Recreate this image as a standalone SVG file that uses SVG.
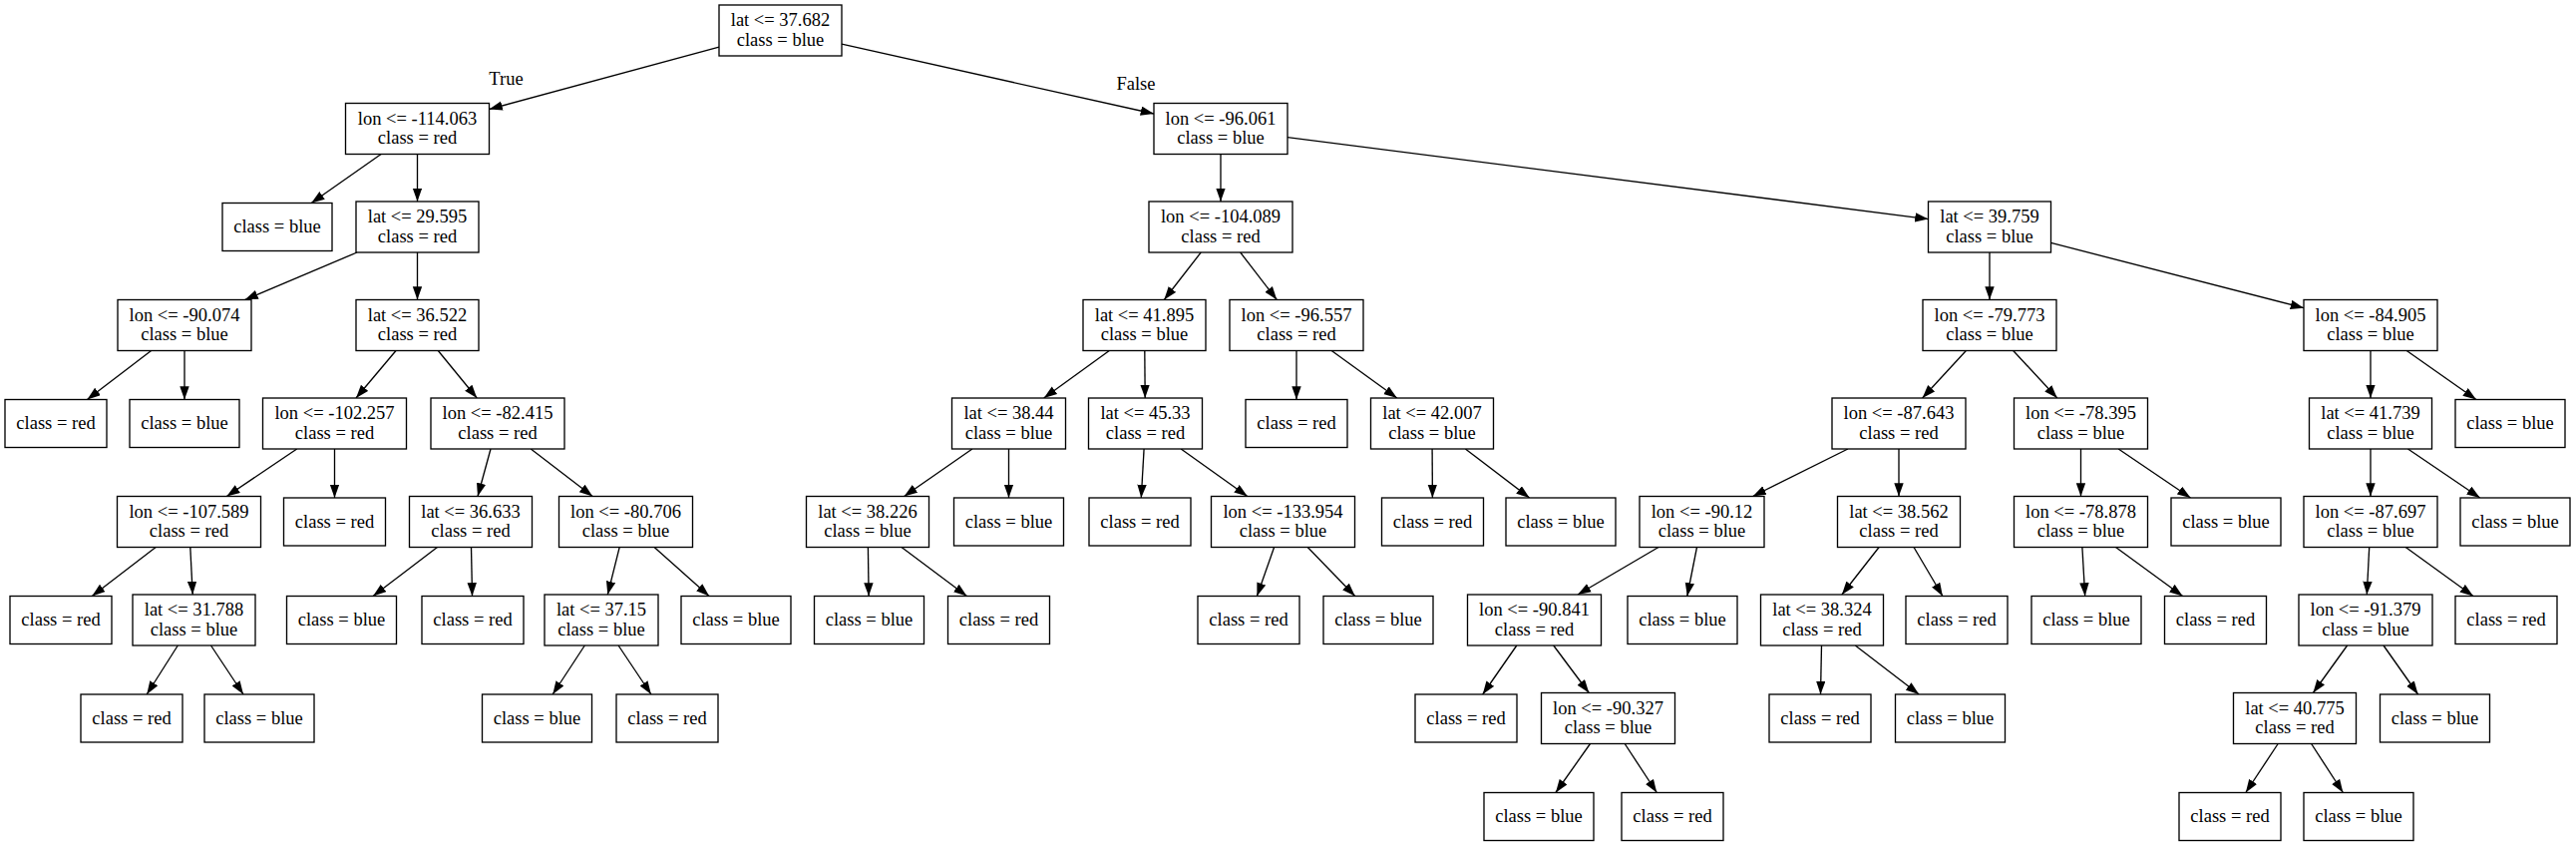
<svg xmlns="http://www.w3.org/2000/svg" width="2583" height="848" viewBox="0 0 2583 848">
<style>
.n rect{fill:#fff;stroke:#000;stroke-width:1.33}
text{font-family:"Liberation Serif","Times New Roman",serif;font-size:18.5px;text-anchor:middle;fill:#000}
.e line{stroke:#000;stroke-width:1.33;marker-end:url(#ah)}
</style>
<defs>
<marker id="ah" markerWidth="14" markerHeight="10" refX="13.3" refY="4.7" orient="auto" markerUnits="userSpaceOnUse">
<path d="M0,0 L13.3,4.7 L0,9.4 z" fill="#000"/>
</marker>
</defs>
<rect x="0" y="0" width="2583" height="848" fill="#fff"/>
<g id="edges" class="e">
<line x1="721" y1="47.1" x2="490.5" y2="109.5"/>
<line x1="844" y1="44.2" x2="1157" y2="114"/>
<line x1="382.1" y1="154.5" x2="312.2" y2="203.5"/>
<line x1="418.5" y1="154.5" x2="418.5" y2="202"/>
<line x1="358" y1="253" x2="245.5" y2="300.5"/>
<line x1="418.5" y1="253" x2="418.5" y2="300.5"/>
<line x1="151.6" y1="351.5" x2="87.4" y2="400.5"/>
<line x1="185" y1="351.5" x2="185" y2="400.5"/>
<line x1="397" y1="351.5" x2="357" y2="399"/>
<line x1="439.3" y1="351.5" x2="478.2" y2="399"/>
<line x1="297.7" y1="450" x2="227.3" y2="497.5"/>
<line x1="335.5" y1="450" x2="335.5" y2="499"/>
<line x1="156.2" y1="548.5" x2="92.3" y2="597.5"/>
<line x1="190.8" y1="548.5" x2="193.2" y2="596"/>
<line x1="178.3" y1="647" x2="147.2" y2="696"/>
<line x1="211.5" y1="647" x2="244" y2="696"/>
<line x1="492" y1="450" x2="479" y2="497.5"/>
<line x1="532.3" y1="450" x2="594.2" y2="497.5"/>
<line x1="438.5" y1="548.5" x2="374.1" y2="597.5"/>
<line x1="472.5" y1="548.5" x2="473.5" y2="597.5"/>
<line x1="621.2" y1="548.5" x2="609.3" y2="596"/>
<line x1="656.1" y1="548.5" x2="711.1" y2="597.5"/>
<line x1="586.3" y1="647" x2="554.2" y2="696"/>
<line x1="620.1" y1="647" x2="652.9" y2="696"/>
<line x1="1224" y1="154.5" x2="1224" y2="202"/>
<line x1="1291" y1="137.6" x2="1933.5" y2="219.6"/>
<line x1="1204.2" y1="253" x2="1167.3" y2="300.5"/>
<line x1="1243.7" y1="253" x2="1280.3" y2="300.5"/>
<line x1="1112.3" y1="351.5" x2="1046.7" y2="399"/>
<line x1="1147.8" y1="351.5" x2="1148.2" y2="399"/>
<line x1="974.9" y1="450" x2="906.6" y2="497.5"/>
<line x1="1011.5" y1="450" x2="1011.5" y2="499"/>
<line x1="870.4" y1="548.5" x2="871.1" y2="597.5"/>
<line x1="904" y1="548.5" x2="969.5" y2="597.5"/>
<line x1="1147.1" y1="450" x2="1144.3" y2="499"/>
<line x1="1184.2" y1="450" x2="1250.8" y2="497.5"/>
<line x1="1277.6" y1="548.5" x2="1260.4" y2="597.5"/>
<line x1="1311.2" y1="548.5" x2="1358.7" y2="597.5"/>
<line x1="1300" y1="351.5" x2="1300" y2="400.5"/>
<line x1="1335.2" y1="351.5" x2="1400.8" y2="399"/>
<line x1="1436.1" y1="450" x2="1436.4" y2="499"/>
<line x1="1469.4" y1="450" x2="1533.6" y2="499"/>
<line x1="1995" y1="253" x2="1995" y2="300.5"/>
<line x1="2056.5" y1="243.4" x2="2310" y2="308.7"/>
<line x1="1971.4" y1="351.5" x2="1927.6" y2="399"/>
<line x1="2018.7" y1="351.5" x2="2062.8" y2="399"/>
<line x1="1852.9" y1="450" x2="1757.6" y2="497.5"/>
<line x1="1904" y1="450" x2="1904" y2="497.5"/>
<line x1="1663" y1="548.5" x2="1582" y2="596"/>
<line x1="1701.5" y1="548.5" x2="1691.8" y2="597.5"/>
<line x1="1520.8" y1="647" x2="1486.7" y2="696"/>
<line x1="1557.7" y1="647" x2="1593.3" y2="694.5"/>
<line x1="1594.5" y1="745.5" x2="1559.9" y2="794.5"/>
<line x1="1629.2" y1="745.5" x2="1661.3" y2="794.5"/>
<line x1="1884.1" y1="548.5" x2="1846.9" y2="596"/>
<line x1="1919" y1="548.5" x2="1947.9" y2="597.5"/>
<line x1="1826.5" y1="647" x2="1825.5" y2="696"/>
<line x1="1860.3" y1="647" x2="1924.2" y2="696"/>
<line x1="2086.5" y1="450" x2="2086.5" y2="497.5"/>
<line x1="2124.2" y1="450" x2="2196.5" y2="499"/>
<line x1="2087.9" y1="548.5" x2="2090.7" y2="597.5"/>
<line x1="2121.5" y1="548.5" x2="2188.6" y2="597.5"/>
<line x1="2377" y1="351.5" x2="2377" y2="399"/>
<line x1="2413.2" y1="351.5" x2="2482.9" y2="400.5"/>
<line x1="2377" y1="450" x2="2377" y2="497.5"/>
<line x1="2414.5" y1="450" x2="2486.7" y2="499"/>
<line x1="2375.7" y1="548.5" x2="2373.3" y2="596"/>
<line x1="2412.2" y1="548.5" x2="2479.9" y2="597.5"/>
<line x1="2353.6" y1="647" x2="2319.4" y2="694.5"/>
<line x1="2390" y1="647" x2="2424.6" y2="696"/>
<line x1="2284.2" y1="745.5" x2="2251.8" y2="794.5"/>
<line x1="2317.6" y1="745.5" x2="2349.4" y2="794.5"/>
</g>
<g id="edge-labels">
<text x="507.5" y="85">True</text>
<text x="1139" y="90">False</text>
</g>
<g id="n0" class="n"><rect x="721" y="5" width="123" height="51"/><text x="782.5" y="26.25">lat &lt;= 37.682</text><text x="782.5" y="45.75">class = blue</text></g>
<g id="n1" class="n"><rect x="346.5" y="103.5" width="144" height="51"/><text x="418.5" y="124.75">lon &lt;= -114.063</text><text x="418.5" y="144.25">class = red</text></g>
<g id="n2" class="n"><rect x="223" y="203.5" width="110" height="48"/><text x="278" y="233">class = blue</text></g>
<g id="n3" class="n"><rect x="357" y="202" width="123" height="51"/><text x="418.5" y="223.25">lat &lt;= 29.595</text><text x="418.5" y="242.75">class = red</text></g>
<g id="n4" class="n"><rect x="118" y="300.5" width="134" height="51"/><text x="185" y="321.75">lon &lt;= -90.074</text><text x="185" y="341.25">class = blue</text></g>
<g id="n5" class="n"><rect x="5" y="400.5" width="102" height="48"/><text x="56" y="430">class = red</text></g>
<g id="n6" class="n"><rect x="130" y="400.5" width="110" height="48"/><text x="185" y="430">class = blue</text></g>
<g id="n7" class="n"><rect x="357" y="300.5" width="123" height="51"/><text x="418.5" y="321.75">lat &lt;= 36.522</text><text x="418.5" y="341.25">class = red</text></g>
<g id="n8" class="n"><rect x="263.5" y="399" width="144" height="51"/><text x="335.5" y="420.25">lon &lt;= -102.257</text><text x="335.5" y="439.75">class = red</text></g>
<g id="n9" class="n"><rect x="117.5" y="497.5" width="144" height="51"/><text x="189.5" y="518.75">lon &lt;= -107.589</text><text x="189.5" y="538.25">class = red</text></g>
<g id="n10" class="n"><rect x="10" y="597.5" width="102" height="48"/><text x="61" y="627">class = red</text></g>
<g id="n11" class="n"><rect x="133" y="596" width="123" height="51"/><text x="194.5" y="617.25">lat &lt;= 31.788</text><text x="194.5" y="636.75">class = blue</text></g>
<g id="n12" class="n"><rect x="81" y="696" width="102" height="48"/><text x="132" y="725.5">class = red</text></g>
<g id="n13" class="n"><rect x="205" y="696" width="110" height="48"/><text x="260" y="725.5">class = blue</text></g>
<g id="n14" class="n"><rect x="284.5" y="499" width="102" height="48"/><text x="335.5" y="528.5">class = red</text></g>
<g id="n15" class="n"><rect x="432" y="399" width="134" height="51"/><text x="499" y="420.25">lon &lt;= -82.415</text><text x="499" y="439.75">class = red</text></g>
<g id="n16" class="n"><rect x="410.5" y="497.5" width="123" height="51"/><text x="472" y="518.75">lat &lt;= 36.633</text><text x="472" y="538.25">class = red</text></g>
<g id="n17" class="n"><rect x="287.5" y="597.5" width="110" height="48"/><text x="342.5" y="627">class = blue</text></g>
<g id="n18" class="n"><rect x="423" y="597.5" width="102" height="48"/><text x="474" y="627">class = red</text></g>
<g id="n19" class="n"><rect x="560.5" y="497.5" width="134" height="51"/><text x="627.5" y="518.75">lon &lt;= -80.706</text><text x="627.5" y="538.25">class = blue</text></g>
<g id="n20" class="n"><rect x="546" y="596" width="114" height="51"/><text x="603" y="617.25">lat &lt;= 37.15</text><text x="603" y="636.75">class = blue</text></g>
<g id="n21" class="n"><rect x="483.5" y="696" width="110" height="48"/><text x="538.5" y="725.5">class = blue</text></g>
<g id="n22" class="n"><rect x="618" y="696" width="102" height="48"/><text x="669" y="725.5">class = red</text></g>
<g id="n23" class="n"><rect x="683" y="597.5" width="110" height="48"/><text x="738" y="627">class = blue</text></g>
<g id="n24" class="n"><rect x="1157" y="103.5" width="134" height="51"/><text x="1224" y="124.75">lon &lt;= -96.061</text><text x="1224" y="144.25">class = blue</text></g>
<g id="n25" class="n"><rect x="1152" y="202" width="144" height="51"/><text x="1224" y="223.25">lon &lt;= -104.089</text><text x="1224" y="242.75">class = red</text></g>
<g id="n26" class="n"><rect x="1086" y="300.5" width="123" height="51"/><text x="1147.5" y="321.75">lat &lt;= 41.895</text><text x="1147.5" y="341.25">class = blue</text></g>
<g id="n27" class="n"><rect x="954.5" y="399" width="114" height="51"/><text x="1011.5" y="420.25">lat &lt;= 38.44</text><text x="1011.5" y="439.75">class = blue</text></g>
<g id="n28" class="n"><rect x="808.5" y="497.5" width="123" height="51"/><text x="870" y="518.75">lat &lt;= 38.226</text><text x="870" y="538.25">class = blue</text></g>
<g id="n29" class="n"><rect x="816.5" y="597.5" width="110" height="48"/><text x="871.5" y="627">class = blue</text></g>
<g id="n30" class="n"><rect x="950.5" y="597.5" width="102" height="48"/><text x="1001.5" y="627">class = red</text></g>
<g id="n31" class="n"><rect x="956.5" y="499" width="110" height="48"/><text x="1011.5" y="528.5">class = blue</text></g>
<g id="n32" class="n"><rect x="1091.5" y="399" width="114" height="51"/><text x="1148.5" y="420.25">lat &lt;= 45.33</text><text x="1148.5" y="439.75">class = red</text></g>
<g id="n33" class="n"><rect x="1092" y="499" width="102" height="48"/><text x="1143" y="528.5">class = red</text></g>
<g id="n34" class="n"><rect x="1214.5" y="497.5" width="144" height="51"/><text x="1286.5" y="518.75">lon &lt;= -133.954</text><text x="1286.5" y="538.25">class = blue</text></g>
<g id="n35" class="n"><rect x="1201" y="597.5" width="102" height="48"/><text x="1252" y="627">class = red</text></g>
<g id="n36" class="n"><rect x="1327" y="597.5" width="110" height="48"/><text x="1382" y="627">class = blue</text></g>
<g id="n37" class="n"><rect x="1233" y="300.5" width="134" height="51"/><text x="1300" y="321.75">lon &lt;= -96.557</text><text x="1300" y="341.25">class = red</text></g>
<g id="n38" class="n"><rect x="1249" y="400.5" width="102" height="48"/><text x="1300" y="430">class = red</text></g>
<g id="n39" class="n"><rect x="1374.5" y="399" width="123" height="51"/><text x="1436" y="420.25">lat &lt;= 42.007</text><text x="1436" y="439.75">class = blue</text></g>
<g id="n40" class="n"><rect x="1385.5" y="499" width="102" height="48"/><text x="1436.5" y="528.5">class = red</text></g>
<g id="n41" class="n"><rect x="1510" y="499" width="110" height="48"/><text x="1565" y="528.5">class = blue</text></g>
<g id="n42" class="n"><rect x="1933.5" y="202" width="123" height="51"/><text x="1995" y="223.25">lat &lt;= 39.759</text><text x="1995" y="242.75">class = blue</text></g>
<g id="n43" class="n"><rect x="1928" y="300.5" width="134" height="51"/><text x="1995" y="321.75">lon &lt;= -79.773</text><text x="1995" y="341.25">class = blue</text></g>
<g id="n44" class="n"><rect x="1837" y="399" width="134" height="51"/><text x="1904" y="420.25">lon &lt;= -87.643</text><text x="1904" y="439.75">class = red</text></g>
<g id="n45" class="n"><rect x="1644" y="497.5" width="125" height="51"/><text x="1706.5" y="518.75">lon &lt;= -90.12</text><text x="1706.5" y="538.25">class = blue</text></g>
<g id="n46" class="n"><rect x="1471.5" y="596" width="134" height="51"/><text x="1538.5" y="617.25">lon &lt;= -90.841</text><text x="1538.5" y="636.75">class = red</text></g>
<g id="n47" class="n"><rect x="1419" y="696" width="102" height="48"/><text x="1470" y="725.5">class = red</text></g>
<g id="n48" class="n"><rect x="1545.5" y="694.5" width="134" height="51"/><text x="1612.5" y="715.75">lon &lt;= -90.327</text><text x="1612.5" y="735.25">class = blue</text></g>
<g id="n49" class="n"><rect x="1488" y="794.5" width="110" height="48"/><text x="1543" y="824">class = blue</text></g>
<g id="n50" class="n"><rect x="1626" y="794.5" width="102" height="48"/><text x="1677" y="824">class = red</text></g>
<g id="n51" class="n"><rect x="1632" y="597.5" width="110" height="48"/><text x="1687" y="627">class = blue</text></g>
<g id="n52" class="n"><rect x="1842.5" y="497.5" width="123" height="51"/><text x="1904" y="518.75">lat &lt;= 38.562</text><text x="1904" y="538.25">class = red</text></g>
<g id="n53" class="n"><rect x="1765.5" y="596" width="123" height="51"/><text x="1827" y="617.25">lat &lt;= 38.324</text><text x="1827" y="636.75">class = red</text></g>
<g id="n54" class="n"><rect x="1774" y="696" width="102" height="48"/><text x="1825" y="725.5">class = red</text></g>
<g id="n55" class="n"><rect x="1900.5" y="696" width="110" height="48"/><text x="1955.5" y="725.5">class = blue</text></g>
<g id="n56" class="n"><rect x="1911" y="597.5" width="102" height="48"/><text x="1962" y="627">class = red</text></g>
<g id="n57" class="n"><rect x="2019.5" y="399" width="134" height="51"/><text x="2086.5" y="420.25">lon &lt;= -78.395</text><text x="2086.5" y="439.75">class = blue</text></g>
<g id="n58" class="n"><rect x="2019.5" y="497.5" width="134" height="51"/><text x="2086.5" y="518.75">lon &lt;= -78.878</text><text x="2086.5" y="538.25">class = blue</text></g>
<g id="n59" class="n"><rect x="2037" y="597.5" width="110" height="48"/><text x="2092" y="627">class = blue</text></g>
<g id="n60" class="n"><rect x="2170.5" y="597.5" width="102" height="48"/><text x="2221.5" y="627">class = red</text></g>
<g id="n61" class="n"><rect x="2177" y="499" width="110" height="48"/><text x="2232" y="528.5">class = blue</text></g>
<g id="n62" class="n"><rect x="2310" y="300.5" width="134" height="51"/><text x="2377" y="321.75">lon &lt;= -84.905</text><text x="2377" y="341.25">class = blue</text></g>
<g id="n63" class="n"><rect x="2315.5" y="399" width="123" height="51"/><text x="2377" y="420.25">lat &lt;= 41.739</text><text x="2377" y="439.75">class = blue</text></g>
<g id="n64" class="n"><rect x="2310" y="497.5" width="134" height="51"/><text x="2377" y="518.75">lon &lt;= -87.697</text><text x="2377" y="538.25">class = blue</text></g>
<g id="n65" class="n"><rect x="2305" y="596" width="134" height="51"/><text x="2372" y="617.25">lon &lt;= -91.379</text><text x="2372" y="636.75">class = blue</text></g>
<g id="n66" class="n"><rect x="2239.5" y="694.5" width="123" height="51"/><text x="2301" y="715.75">lat &lt;= 40.775</text><text x="2301" y="735.25">class = red</text></g>
<g id="n67" class="n"><rect x="2185" y="794.5" width="102" height="48"/><text x="2236" y="824">class = red</text></g>
<g id="n68" class="n"><rect x="2310" y="794.5" width="110" height="48"/><text x="2365" y="824">class = blue</text></g>
<g id="n69" class="n"><rect x="2386.5" y="696" width="110" height="48"/><text x="2441.5" y="725.5">class = blue</text></g>
<g id="n70" class="n"><rect x="2462" y="597.5" width="102" height="48"/><text x="2513" y="627">class = red</text></g>
<g id="n71" class="n"><rect x="2467" y="499" width="110" height="48"/><text x="2522" y="528.5">class = blue</text></g>
<g id="n72" class="n"><rect x="2462" y="400.5" width="110" height="48"/><text x="2517" y="430">class = blue</text></g>
</svg>
